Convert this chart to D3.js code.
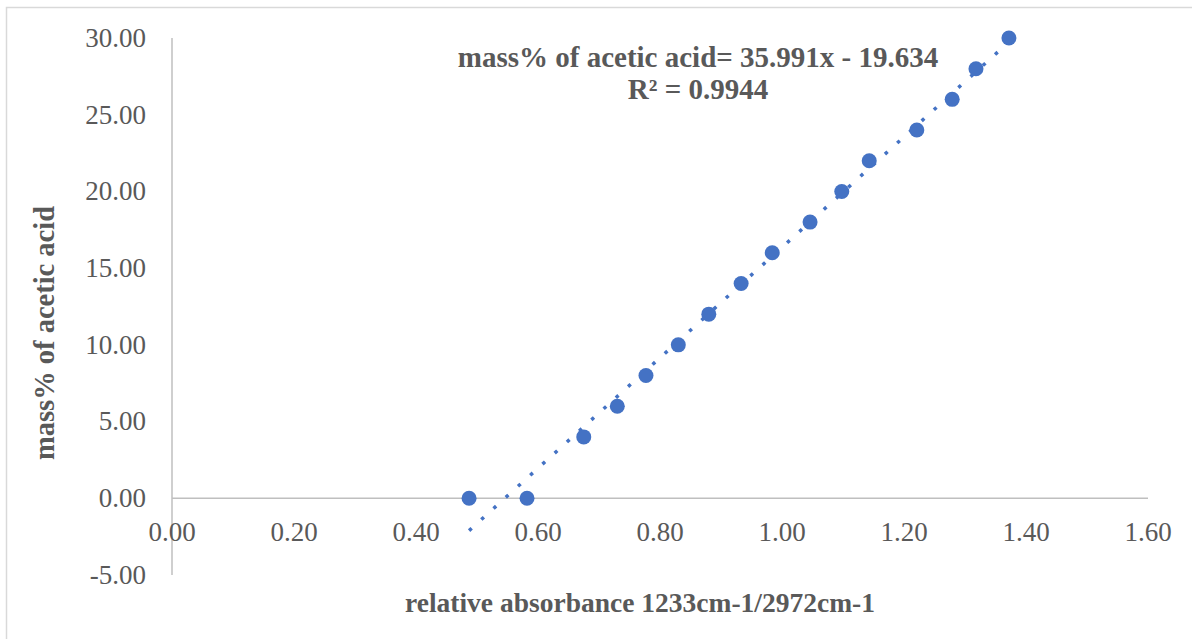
<!DOCTYPE html>
<html>
<head>
<meta charset="utf-8">
<script src="https://cdn.jsdelivr.net/npm/d3@7"></script>
<style>
  body { margin: 0; background: #fff; }
  svg { display: block; font-family: "Liberation Serif", "Times New Roman", serif; }
</style>
</head>
<body>
<svg id="chart" width="1192" height="639"></svg>
<script>
// Calibration: relative absorbance vs mass% acetic acid
const absorbance = [0.487, 0.582, 0.675, 0.730, 0.777, 0.830, 0.880, 0.933, 0.984, 1.046, 1.098, 1.143, 1.221, 1.279, 1.318, 1.372];
const massPct = [0, 0, 4, 6, 8, 10, 12, 14, 16, 18, 20, 22, 24, 26, 28, 30];

const xTicks = [0, 0.2, 0.4, 0.6, 0.8, 1.0, 1.2, 1.4, 1.6];
const yTicks = [-5, 0, 5, 10, 15, 20, 25, 30];

// trendline from the fit shown on the chart
const slope = 35.991;
const intercept = -19.634;
const eqLabel = 'mass% of acetic acid= 35.991x - 19.634';
const r2Label = 'R² = 0.9944';

const textColor = '#595959';
const axisColor = '#bfbfbf';
const dotColor = '#4472c4';

const svg = d3.select('#chart');

// chart area border (only top and left edges show in frame)
svg.append('rect')
  .attr('x', 6.5).attr('y', 7.5)
  .attr('width', 1300).attr('height', 800)
  .attr('fill', 'none')
  .attr('stroke', '#d9d9d9')
  .attr('stroke-width', 1.5);

const x = d3.scaleLinear().domain([0, 1.6]).range([172, 1148]);
const y = d3.scaleLinear().domain([-5, 30]).range([575, 38]);

// x axis at y = 0
svg.append('line')
  .attr('x1', x(0)).attr('x2', x(1.6))
  .attr('y1', y(0)).attr('y2', y(0))
  .attr('stroke', axisColor).attr('stroke-width', 1.5);

// y axis at x = 0
svg.append('line')
  .attr('x1', x(0)).attr('x2', x(0))
  .attr('y1', y(30)).attr('y2', y(-5))
  .attr('stroke', axisColor).attr('stroke-width', 1.5);

// tick labels
svg.append('g').selectAll('text')
  .data(xTicks)
  .enter()
  .append('text')
  .attr('x', d => x(d))
  .attr('y', 541)
  .attr('text-anchor', 'middle')
  .attr('font-size', 27)
  .attr('fill', textColor)
  .text(d => d.toFixed(2));

svg.append('g').selectAll('text')
  .data(yTicks)
  .enter()
  .append('text')
  .attr('x', 146)
  .attr('y', d => y(d))
  .attr('dy', '0.33em')
  .attr('text-anchor', 'end')
  .attr('font-size', 27)
  .attr('fill', textColor)
  .text(d => d.toFixed(2));

// dotted trendline
const xMin = d3.min(absorbance);
const xMax = d3.max(absorbance);
svg.append('line')
  .attr('x1', x(xMin)).attr('y1', y(slope * xMin + intercept))
  .attr('x2', x(xMax)).attr('y2', y(slope * xMax + intercept))
  .attr('stroke', dotColor)
  .attr('stroke-width', 3.5)
  .attr('stroke-dasharray', '3.5,13');

// data points
svg.append('g').selectAll('circle')
  .data(absorbance.map((a, i) => ({ a, m: massPct[i] })))
  .enter()
  .append('circle')
  .attr('cx', d => x(d.a))
  .attr('cy', d => y(d.m))
  .attr('r', 7.5)
  .attr('fill', dotColor);

// equation label
svg.append('text')
  .attr('x', 698).attr('y', 67)
  .attr('text-anchor', 'middle')
  .attr('font-size', 29)
  .attr('font-weight', 'bold')
  .attr('fill', textColor)
  .text(eqLabel);

svg.append('text')
  .attr('x', 698).attr('y', 99)
  .attr('text-anchor', 'middle')
  .attr('font-size', 29)
  .attr('font-weight', 'bold')
  .attr('fill', textColor)
  .text(r2Label);

// axis titles
svg.append('text')
  .attr('x', 640).attr('y', 612)
  .attr('text-anchor', 'middle')
  .attr('font-size', 27.5)
  .attr('font-weight', 'bold')
  .attr('fill', textColor)
  .text('relative absorbance 1233cm-1/2972cm-1');

svg.append('text')
  .attr('transform', 'translate(54,333) rotate(-90)')
  .attr('text-anchor', 'middle')
  .attr('font-size', 28.5)
  .attr('font-weight', 'bold')
  .attr('fill', textColor)
  .text('mass% of acetic acid');
</script>
</body>
</html>
